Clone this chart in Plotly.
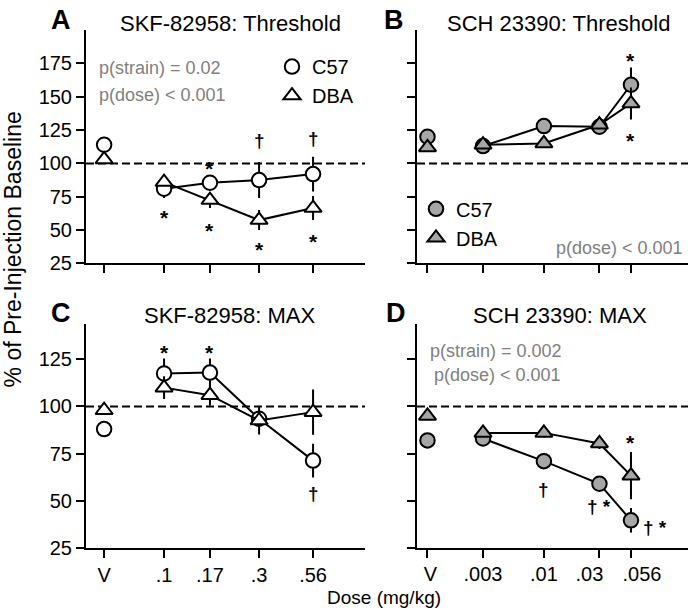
import math
import plotly.graph_objects as go

W, H = 691, 615          # reference picture size (all positions below are in these pixels)
H_PAGE = 627             # page height of the figure; the capture is scaled back to 615

# ---------------- data ----------------
skf_doses = [0.1, 0.17, 0.3, 0.56]
sch_doses = [0.003, 0.01, 0.03, 0.056]
skf_ticktext = ["V", ".1", ".17", ".3", ".56"]
sch_ticktext = ["V", ".003", ".01", ".03", ".056"]
strains = ["C57", "DBA"]

# A: SKF-82958 threshold  (first value = vehicle)
a_c57 = [114, 81, 85.5, 87.5, 92]
a_c57_err = [2, 7, 3, 13.5, 13]
a_dba = [103, 86, 72.5, 57.5, 66.5]
a_dba_err = [2, 3, 6, 7.5, 9]

# B: SCH 23390 threshold
b_c57 = [120, 113, 128, 127.5, 159]
b_c57_err = [2, 2, 3, 3, 13]
b_dba = [112, 114, 115, 129, 145]
b_dba_err = [2, 2, 2, 3, 12]

# C: SKF-82958 MAX
c_c57 = [88, 117.5, 118, 93.5, 71.3]
c_c57_err = [2, 8, 7.5, 3, 9]
c_dba = [98, 110, 106, 92.6, 97]
c_dba_err = [2, 6, 5.5, 7.5, 12]

# D: SCH 23390 MAX
d_c57 = [82, 83, 71, 59, 39.6]
d_c57_err = [2, 2, 2, 2.5, 6.5]
d_dba = [95, 86, 86, 80.4, 63.3]
d_dba_err = [2, 2, 2.5, 3, 12.5]

baseline = 100

# significance labels
a_sig_x = [0.1, 0.17, 0.17, 0.3, 0.3, 0.56, 0.56]
a_sig_y = [64, 101, 54, 117, 40, 119, 46]
a_sig_t = ["*", "*", "*", "†", "*", "†", "*"]
b_sig_x = [0.056, 0.056]
b_sig_y = [182, 122]
b_sig_t = ["*", "*"]
c_sig_x = [0.1, 0.17, 0.56]
c_sig_y = [132, 132, 54]
c_sig_t = ["*", "*", "†"]
d_sig_x = [0.01, 0.03, 0.056, 0.056]
d_sig_y = [56, 47, 84, 36]
d_sig_t = ["†", "† *", "*", "† *"]

# ---------------- style / layout constants ----------------
VEH_SKF = 0.05    # x position used for the vehicle point on log axes
VEH_SCH = 0.001
FONT = "Liberation Sans, Arial, sans-serif"
GRAY = "#a6a6a6"
TXTGRAY = "#808080"
d_sig_xshift = [0, 0, 0, 24]
d_label_shift_px = [3, 0, 0, -10, 11]   # nudges of the bottom-right tick labels


def px(x):
    return x / W


def py(y):
    return 1 - y / H


fig = go.Figure()

panels = [
    ("x", "y", skf_doses, VEH_SKF, a_c57, a_c57_err, a_dba, a_dba_err, "white", "legend"),
    ("x2", "y2", sch_doses, VEH_SCH, b_c57, b_c57_err, b_dba, b_dba_err, GRAY, "legend2"),
    ("x3", "y3", skf_doses, VEH_SKF, c_c57, c_c57_err, c_dba, c_dba_err, "white", None),
    ("x4", "y4", sch_doses, VEH_SCH, d_c57, d_c57_err, d_dba, d_dba_err, GRAY, None),
]

symbols = {"C57": ("circle", 14.5), "DBA": ("triangle-up", 15)}

for xa, ya, doses, veh, c57, c57e, dba, dbae, fill, leg in panels:
    xs = [veh, None] + doses
    for name, vals, errs in (("C57", c57, c57e), ("DBA", dba, dbae)):
        sym, size = symbols[name]
        ys = [vals[0], None] + vals[1:]
        es = [errs[0], None] + errs[1:]
        fig.add_trace(go.Scatter(
            x=xs, y=ys, xaxis=xa, yaxis=ya, mode="lines+markers",
            connectgaps=False, showlegend=False, name=name,
            line=dict(color="black", width=2),
            marker=dict(symbol=sym, size=size, color=fill,
                        line=dict(color="black", width=2)),
            error_y=dict(type="data", array=es, visible=True,
                         thickness=2, width=0, color="black"),
        ))
    if leg:
        for name in strains:
            sym, size = symbols[name]
            fig.add_trace(go.Scatter(
                x=[None], y=[None], xaxis=xa, yaxis=ya, mode="markers",
                name=name, legend=leg, showlegend=True,
                marker=dict(symbol=sym, size=size, color=fill,
                            line=dict(color="black", width=2)),
            ))

annotations = []
sig_sets = [
    ("x", "y", a_sig_x, a_sig_y, a_sig_t, None),
    ("x2", "y2", b_sig_x, b_sig_y, b_sig_t, None),
    ("x3", "y3", c_sig_x, c_sig_y, c_sig_t, None),
    ("x4", "y4", d_sig_x, d_sig_y, d_sig_t, d_sig_xshift),
]
for xa, ya, xv, yv, tv, shifts in sig_sets:
    for i, (x, y, t) in enumerate(zip(xv, yv, tv)):
        annotations.append(dict(
            x=math.log10(x), y=y, xref=xa, yref=ya, text=f"<b>{t}</b>", showarrow=False,
            font=dict(family="Liberation Sans", size=21 if t == "*" else 19, color="#000000"),
            xanchor="center", yanchor="middle",
            yshift=-6 if t == "*" else 0,
            xshift=shifts[i] if shifts else 0,
        ))

for letter, (lx, ly) in {"A": (61, 20), "B": (394, 20), "C": (61, 312), "D": (396, 312)}.items():
    annotations.append(dict(x=px(lx), y=py(ly), xref="paper", yref="paper",
                            text=f"<b>{letter}</b>", showarrow=False,
                            font=dict(family=FONT, size=27, color="black"),
                            xanchor="center", yanchor="middle"))
titles = [("SKF-82958: Threshold", 230, 23), ("SCH 23390: Threshold", 558, 23),
          ("SKF-82958: MAX", 230, 315), ("SCH 23390: MAX", 560, 315)]
for t, tx, ty in titles:
    annotations.append(dict(x=px(tx), y=py(ty), xref="paper", yref="paper",
                            text=t, showarrow=False,
                            font=dict(family=FONT, size=22, color="black"),
                            xanchor="center", yanchor="middle"))

ptexts = [("p(strain) = 0.02", 97, 68, "left"), ("p(dose) < 0.001", 97, 95, "left"),
          ("p(dose) < 0.001", 685, 248, "right"),
          ("p(strain) = 0.002", 428, 350, "left"), ("p(dose) < 0.001", 432, 374, "left")]
for t, tx, ty, anc in ptexts:
    annotations.append(dict(x=px(tx), y=py(ty), xref="paper", yref="paper",
                            text=t, showarrow=False,
                            font=dict(family=FONT, size=18, color=TXTGRAY),
                            xanchor=anc, yanchor="middle"))

annotations.append(dict(x=px(13), y=py(249), xref="paper", yref="paper",
                        text="% of Pre-Injection Baseline", showarrow=False, textangle=-90,
                        font=dict(family=FONT, size=23, color="black"),
                        xanchor="center", yanchor="middle"))
annotations.append(dict(x=px(384), y=py(597), xref="paper", yref="paper",
                        text="Dose (mg/kg)", showarrow=False,
                        font=dict(family=FONT, size=19, color="black"),
                        xanchor="center", yanchor="middle"))

shapes = []
for xa, ya in (("x", "y"), ("x2", "y2"), ("x3", "y3"), ("x4", "y4")):
    shapes.append(dict(type="line", xref=f"{xa} domain", yref=ya, x0=0, x1=1,
                       y0=baseline, y1=baseline, layer="below",
                       line=dict(color="black", width=2, dash="8px,4px")))

xdom_l = [px(86), px(365)]
xdom_r = [px(417), px(688)]
ydom_t = [py(263), py(30)]
ydom_b = [py(547), py(323)]
xr_skf = [-1.392, 0.009]
xr_sch = [-3.09, -0.762]

axis_common = dict(showline=True, linecolor="black", linewidth=2, ticks="outside",
                   ticklen=8, tickwidth=2, tickcolor="black", showgrid=False,
                   zeroline=False, tickangle=0,
                   tickfont=dict(family=FONT, size=20, color="black"))

skf_tickvals = [VEH_SKF] + skf_doses
sch_tickvals = [VEH_SCH] + sch_doses
top_ticks = [25, 50, 75, 100, 125, 150, 175]
bot_ticks = [25, 50, 75, 100, 125]

dec_per_px = (xr_sch[1] - xr_sch[0]) / (688 - 417)
d_label_pos = [v * 10 ** (s * dec_per_px) for v, s in zip(sch_tickvals, d_label_shift_px)]

fig.update_layout(
    width=W, height=H_PAGE, autosize=False,
    margin=dict(l=0, r=0, t=0, b=0),
    paper_bgcolor="white", plot_bgcolor="white",
    font=dict(family=FONT, color="black"),
    xaxis=dict(domain=xdom_l, anchor="y", type="log", range=xr_skf,
               tickvals=skf_tickvals, ticktext=skf_ticktext, showticklabels=False, **axis_common),
    yaxis=dict(domain=ydom_t, anchor="x", range=[25, 200], tickvals=top_ticks, **axis_common),
    xaxis2=dict(domain=xdom_r, anchor="y2", type="log", range=xr_sch,
                tickvals=sch_tickvals, ticktext=sch_ticktext, showticklabels=False, **axis_common),
    yaxis2=dict(domain=ydom_t, anchor="x2", range=[25, 200], tickvals=top_ticks,
                showticklabels=False, **axis_common),
    xaxis3=dict(domain=xdom_l, anchor="y3", type="log", range=xr_skf,
                tickvals=skf_tickvals, ticktext=skf_ticktext, **axis_common),
    yaxis3=dict(domain=ydom_b, anchor="x3", range=[25, 144], tickvals=bot_ticks, **axis_common),
    xaxis4=dict(domain=xdom_r, anchor="y4", type="log", range=xr_sch,
                tickvals=sch_tickvals, ticktext=sch_ticktext, showticklabels=False, **axis_common),
    xaxis5=dict(domain=xdom_r, anchor="y4", overlaying="x4", type="log", range=xr_sch,
                tickvals=d_label_pos, ticktext=sch_ticktext, ticks="outside", ticklen=8,
                tickcolor="rgba(0,0,0,0)", showline=False, showgrid=False, zeroline=False,
                tickangle=0, tickfont=dict(family=FONT, size=20, color="black")),
    yaxis4=dict(domain=ydom_b, anchor="x4", range=[25, 144], tickvals=bot_ticks,
                showticklabels=False, **axis_common),
    legend=dict(x=px(272), y=py(47), xanchor="left", yanchor="top",
                bgcolor="rgba(0,0,0,0)", font=dict(family=FONT, size=20, color="black"),
                itemclick=False, itemdoubleclick=False),
    legend2=dict(x=px(416), y=py(189), xanchor="left", yanchor="top",
                 bgcolor="rgba(0,0,0,0)", font=dict(family=FONT, size=20, color="black"),
                 itemclick=False, itemdoubleclick=False),
    annotations=annotations,
    shapes=shapes,
)

fig.add_trace(go.Scatter(x=[None], y=[None], xaxis="x5", yaxis="y4",
                         showlegend=False, hoverinfo="skip"))

fig.write_html(
    "out.html",
    config={"displayModeBar": False},
    post_script=("document.documentElement.style.overflow='hidden';"
                 "document.body.style.overflow='hidden';"
                 "document.body.style.margin='0px';"
                 "var d=document.getElementById('{plot_id}');"
                 "d.style.position='absolute';d.style.left='0px';d.style.top='0px';"),
)
